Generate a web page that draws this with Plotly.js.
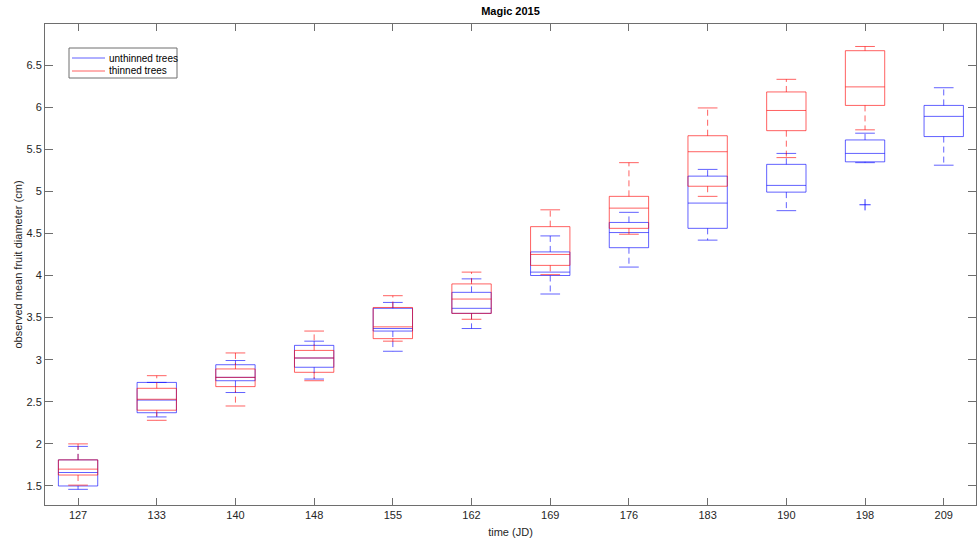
<!DOCTYPE html>
<html>
<head>
<meta charset="utf-8">
<script src="https://cdn.plot.ly/plotly-3.0.1.min.js"></script>
<style>html,body{margin:0;padding:0;background:#fff}#chart{width:977px;height:544px}</style>
</head>
<body>
<div id="chart"></div>
<script>
// Category labels (time, JD)
const categories = ['127','133','140','148','155','162','169','176','183','190','198','209'];

// Unthinned trees (blue)
const unthinnedLower  = [1.46, 2.32, 2.61, 2.77, 3.10, 3.37, 3.78, 4.10, 4.42, 4.77, 5.34, 5.31];
const unthinnedQ1     = [1.50, 2.37, 2.75, 2.91, 3.34, 3.55, 4.00, 4.33, 4.56, 4.99, 5.35, 5.65];
const unthinnedMedian = [1.66, 2.52, 2.79, 3.02, 3.37, 3.61, 4.04, 4.51, 4.86, 5.07, 5.45, 5.89];
const unthinnedQ3     = [1.81, 2.73, 2.94, 3.17, 3.61, 3.80, 4.28, 4.63, 5.18, 5.32, 5.61, 6.02];
const unthinnedUpper  = [1.97, 2.73, 2.99, 3.22, 3.68, 3.96, 4.47, 4.75, 5.26, 5.45, 5.69, 6.23];
const unthinnedOutlierCats = ['198'];
const unthinnedOutlierVals = [4.84];

// Thinned trees (red) — no data at 209
const thinnedLower  = [1.51, 2.28, 2.45, 2.75, 3.22, 3.48, 4.01, 4.49, 4.94, 5.40, 5.73];
const thinnedQ1     = [1.63, 2.40, 2.68, 2.85, 3.25, 3.55, 4.12, 4.56, 5.06, 5.72, 6.02];
const thinnedMedian = [1.70, 2.53, 2.79, 3.02, 3.39, 3.72, 4.25, 4.80, 5.47, 5.96, 6.24];
const thinnedQ3     = [1.81, 2.66, 2.89, 3.11, 3.62, 3.90, 4.58, 4.94, 5.66, 6.18, 6.67];
const thinnedUpper  = [2.00, 2.81, 3.08, 3.34, 3.76, 4.04, 4.78, 5.34, 5.99, 6.33, 6.72];

const seriesNames = ['unthinned trees', 'thinned trees'];

const BLUE = 'rgba(0,0,255,0.62)';
const RED = 'rgba(255,0,0,0.62)';
const BLUE_SOLID = 'rgb(97,97,255)';
const RED_SOLID = 'rgb(255,97,97)';
const BOXW = 0.5, CAPW = 0.25;

function pos(i){ return i + 1; }

function series(name, color, lower, q1, med, q3, upper){
  const n = q1.length;
  const xs = q1.map((_, i) => pos(i));
  const box = {
    type: 'box', name: name, x: xs, q1: q1, median: med, q3: q3,
    lowerfence: q1, upperfence: q3, width: BOXW, whiskerwidth: 0,
    boxpoints: false, line: {color: color, width: 1}, fillcolor: 'rgba(0,0,0,0)',
    showlegend: false, hoverinfo: 'skip'
  };
  const wx = [], wy = [], cx = [], cy = [];
  for (let i = 0; i < n; i++) {
    const p = pos(i);
    wx.push(p, p, null, p, p, null);
    wy.push(q3[i], upper[i], null, q1[i], lower[i], null);
    cx.push(p - CAPW/2, p + CAPW/2, null, p - CAPW/2, p + CAPW/2, null);
    cy.push(upper[i], upper[i], null, lower[i], lower[i], null);
  }
  const whisk = {type: 'scatter', mode: 'lines', x: wx, y: wy, showlegend: false,
    line: {color: color, width: 1, dash: '6px,4px'}, hoverinfo: 'skip'};
  const caps = {type: 'scatter', mode: 'lines', x: cx, y: cy, name: name, showlegend: false,
    line: {color: color, width: 1}, hoverinfo: 'skip'};
  return [box, whisk, caps];
}

const traces = [].concat(
  series(seriesNames[0], BLUE, unthinnedLower, unthinnedQ1, unthinnedMedian, unthinnedQ3, unthinnedUpper),
  series(seriesNames[1], RED, thinnedLower, thinnedQ1, thinnedMedian, thinnedQ3, thinnedUpper),
  [{type: 'scatter', mode: 'markers', x: unthinnedOutlierCats.map(c => categories.indexOf(c) + 1),
    y: unthinnedOutlierVals, showlegend: false, hoverinfo: 'skip',
    marker: {symbol: 'cross-thin', size: 8, line: {color: 'rgba(0,0,255,0.8)', width: 1}}}]
);

// Plot area geometry (pixels) used to place a compact MATLAB-style legend
const PL = 45, PR = 976, PT = 24, PB = 505;
const px = v => (v - PL) / (PR - PL);
const py = v => (PB - v) / (PB - PT);

const axisColor = 'rgb(110,110,110)';
const textColor = 'rgb(38,38,38)';

const legendShapes = [
  {type: 'rect', xref: 'paper', yref: 'paper', x0: px(69), x1: px(177), y0: py(78), y1: py(48),
    line: {color: axisColor, width: 1}, fillcolor: '#fff', layer: 'above'},
  {type: 'line', xref: 'paper', yref: 'paper', x0: px(72), x1: px(105), y0: py(58), y1: py(58),
    line: {color: BLUE_SOLID, width: 1}, layer: 'above'},
  {type: 'line', xref: 'paper', yref: 'paper', x0: px(72), x1: px(105), y0: py(71), y1: py(71),
    line: {color: RED_SOLID, width: 1}, layer: 'above'}
];
const legendAnnotations = seriesNames.map((t, i) => ({
  xref: 'paper', yref: 'paper', x: px(107), y: py(i === 0 ? 58 : 71),
  xanchor: 'left', yanchor: 'middle', showarrow: false, text: t,
  font: {size: 10, color: 'rgb(0,0,0)'}
}));

const layout = {
  width: 977, height: 544,
  margin: {l: 45, r: 1, t: 24, b: 39},
  paper_bgcolor: '#fff', plot_bgcolor: '#fff',
  font: {family: 'Liberation Sans, Arial, sans-serif', size: 11, color: textColor},
  boxmode: 'overlay',
  showlegend: false,
  title: {text: '<b>Magic 2015</b>', x: 0.5, xref: 'paper', xanchor: 'center',
    y: 1 - 11/544, yref: 'container', yanchor: 'middle',
    font: {size: 11, color: 'rgb(0,0,0)'}},
  xaxis: {
    range: [0.58, 12.41], tickmode: 'array',
    tickvals: categories.map((_, i) => pos(i)), ticktext: categories,
    ticks: 'inside', ticklen: 7, tickcolor: axisColor, tickwidth: 1,
    showline: true, linecolor: axisColor, linewidth: 1, mirror: 'ticks',
    showgrid: false, zeroline: false,
    title: {text: 'time (JD)', font: {size: 11, color: textColor}, standoff: 8},
    tickfont: {size: 11, color: textColor}
  },
  yaxis: {
    range: [1.274, 6.987], tick0: 1.5, dtick: 0.5,
    ticks: 'inside', ticklen: 8, tickcolor: axisColor, tickwidth: 1,
    showline: true, linecolor: axisColor, linewidth: 1, mirror: 'ticks',
    showgrid: false, zeroline: false,
    title: {text: 'observed mean fruit diameter (cm)', font: {size: 11, color: textColor}, standoff: 1},
    tickfont: {size: 11, color: textColor}
  },
  shapes: legendShapes,
  annotations: legendAnnotations
};

Plotly.newPlot('chart', traces, layout, {staticPlot: true, displayModeBar: false});
</script>
</body>
</html>
